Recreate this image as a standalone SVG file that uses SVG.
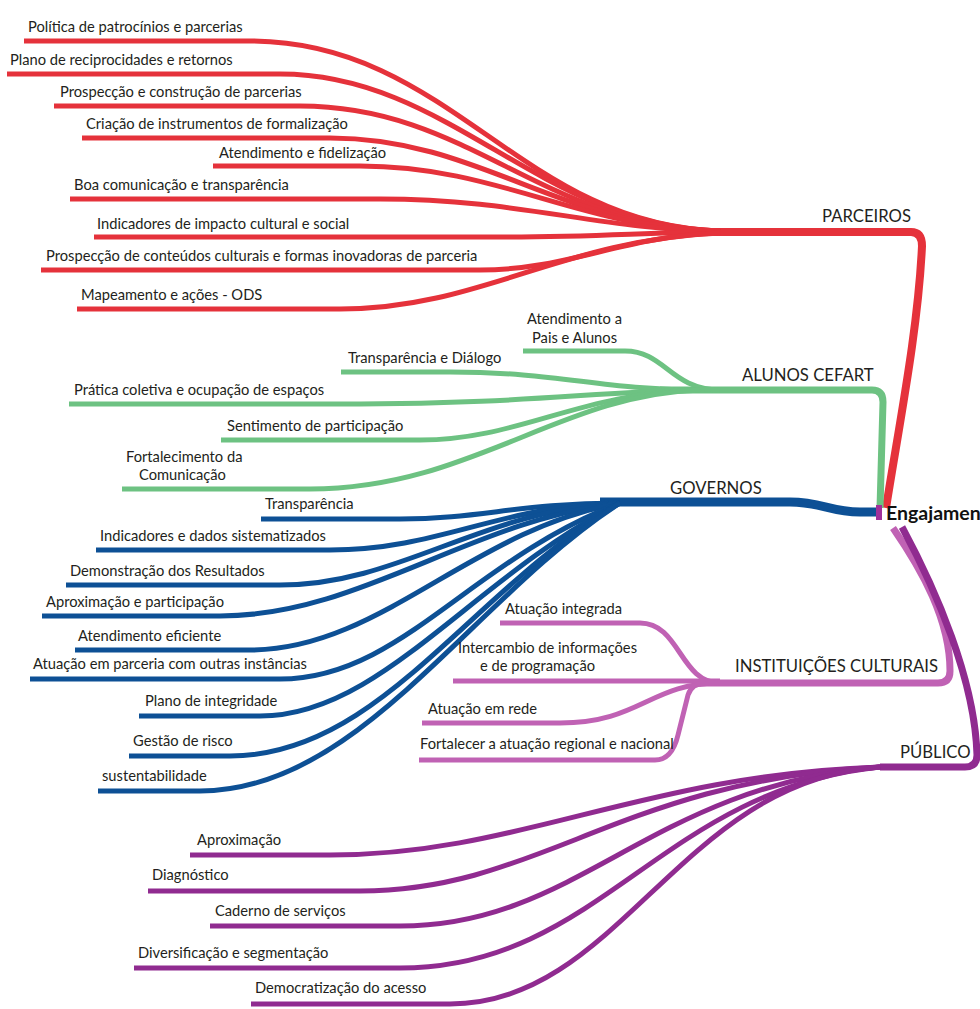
<svg xmlns="http://www.w3.org/2000/svg" width="980" height="1009" viewBox="0 0 980 1009">
<style>
.t{font-family:Lato,"Liberation Sans",sans-serif;font-size:14.7px;fill:#231f20}
.h{font-family:Lato,"Liberation Sans",sans-serif;font-size:16.7px;fill:#231f20}
.c{font-family:Lato,"Liberation Sans",sans-serif;font-size:19.5px;font-weight:bold;fill:#111}
.r,.g,.b,.p,.q{fill:none;stroke-width:5;stroke-linecap:butt;stroke-linejoin:round}
.r{stroke:#e5323b}.g{stroke:#6dc282}.b{stroke:#0d5095}.p{stroke:#902b90}.q{stroke:#c062b4}
</style>
<rect width="980" height="1009" fill="#fff"/>
<g id="connectors">
<path class="r" style="stroke-width:8" d="M700,232 H911 Q922,232 922,246 C918,330 900,420 886,508"/>
<path class="g" style="stroke-width:7" d="M660,390 H872 Q883,390 883,402 L880,508"/>
<path class="b" style="stroke-width:9" d="M600,502 H790 C822,502 830,512 860,512 H878"/>
<path class="q" style="stroke-width:7" d="M700,683 H938 Q950,683 950,671 C950,620 922,570 893,528"/>
<path class="p" style="stroke-width:7" d="M880,767 H965 Q977,767 977,755 C975,680 936,590 902,527"/>
<rect x="876" y="505" width="6" height="15" fill="#a0309a"/>
<path class="r" d="M24,41 H250 C450,41 520,225 720,231"/>
<path class="r" d="M7,74 H280 C450,74 540,226 720,231"/>
<path class="r" d="M54,106 H300 C470,106 540,226 720,231"/>
<path class="r" d="M82,138 H330 C480,138 560,228 720,231"/>
<path class="r" d="M213,166 H360 C500,166 580,229 720,231"/>
<path class="r" d="M70,199 H380 C520,199 600,230 720,231"/>
<path class="r" d="M94,237 H500 C600,237 650,232 720,232"/>
<path class="r" d="M41,270 H480 C570,270 620,236 720,233"/>
<path class="r" d="M77,309 H340 C480,309 560,240 720,233"/>
<path class="g" d="M523,351 H625 C665,351 670,389 720,390"/>
<path class="g" d="M341,372 H450 C560,372 600,390 700,390"/>
<path class="g" d="M69,404 H360 C520,404 600,391 700,390"/>
<path class="g" d="M221,440 H420 C520,440 580,392 700,390"/>
<path class="g" d="M122,489 H310 C470,489 560,394 700,390"/>
<path class="b" d="M261,519 H400 C480,519 520,503 620,503"/>
<path class="b" d="M96,550 H330 C440,550 500,505 620,503"/>
<path class="b" d="M66,585 H280 C400,585 480,510 620,503"/>
<path class="b" d="M42,616 H220 C360,616 470,520 620,503"/>
<path class="b" d="M75,650 H250 C380,650 470,530 620,503"/>
<path class="b" d="M30,679 H280 C400,679 470,560 620,503"/>
<path class="b" d="M139,716 H260 C380,716 470,580 620,503"/>
<path class="b" d="M129,756 H230 C380,756 470,590 620,503"/>
<path class="b" d="M98,791 H200 C360,791 470,600 620,503"/>
<path class="q" d="M500,623 H640 C680,623 680,683 720,683"/>
<path class="q" d="M453,681 H720"/>
<path class="q" d="M422,723 H560 C640,723 650,683 720,683"/>
<path class="q" d="M419,760 H655 Q672,760 678,735 L688,695 Q692,683 705,683"/>
<path class="p" d="M190,855 H330 C520,855 640,775 880,767"/>
<path class="p" d="M148,891 H360 C540,891 620,780 880,767"/>
<path class="p" d="M210,926 H400 C580,926 650,785 880,767"/>
<path class="p" d="M134,968 H400 C600,968 660,790 880,767"/>
<path class="p" d="M251,1004 H450 C620,1004 680,780 880,767"/>
</g>
<g id="center"><text class="c" x="886" y="520">Engajamento</text></g>
<g id="parceiros"><text class="h" x="822" y="222">PARCEIROS</text></g>
<g id="alunos"><text class="h" x="742" y="381">ALUNOS CEFART</text></g>
<g id="governos"><text class="h" x="670" y="494">GOVERNOS</text></g>
<g id="instituicoes"><text class="h" x="735" y="672">INSTITUIÇÕES CULTURAIS</text></g>
<g id="publico"><text class="h" x="900" y="758">PÚBLICO</text></g>
<g id="p1"><text class="t" x="28" y="32">Política de patrocínios e parcerias</text></g>
<g id="p2"><text class="t" x="10" y="65">Plano de reciprocidades e retornos</text></g>
<g id="p3"><text class="t" x="60" y="97">Prospecção e construção de parcerias</text></g>
<g id="p4"><text class="t" x="86" y="129">Criação de instrumentos de formalização</text></g>
<g id="p5"><text class="t" x="219" y="158">Atendimento e fidelização</text></g>
<g id="p6"><text class="t" x="74" y="190">Boa comunicação e transparência</text></g>
<g id="p7"><text class="t" x="97" y="229">Indicadores de impacto cultural e social</text></g>
<g id="p8"><text class="t" x="46" y="261">Prospecção de conteúdos culturais e formas inovadoras de parceria</text></g>
<g id="p9"><text class="t" x="81" y="300">Mapeamento e ações - ODS</text></g>
<g id="a1"><text class="t" x="527" y="324">Atendimento a</text><text class="t" x="532" y="343">Pais e Alunos</text></g>
<g id="a2"><text class="t" x="348" y="363">Transparência e Diálogo</text></g>
<g id="a3"><text class="t" x="74" y="395">Prática coletiva e ocupação de espaços</text></g>
<g id="a4"><text class="t" x="227" y="431">Sentimento de participação</text></g>
<g id="a5"><text class="t" x="126" y="462">Fortalecimento da</text><text class="t" x="139" y="480">Comunicação</text></g>
<g id="g1"><text class="t" x="265" y="509">Transparência</text></g>
<g id="g2"><text class="t" x="100" y="541">Indicadores e dados sistematizados</text></g>
<g id="g3"><text class="t" x="70" y="576">Demonstração dos Resultados</text></g>
<g id="g4"><text class="t" x="46" y="607">Aproximação e participação</text></g>
<g id="g5"><text class="t" x="78" y="641">Atendimento eficiente</text></g>
<g id="g6"><text class="t" x="33" y="669">Atuação em parceria com outras instâncias</text></g>
<g id="g7"><text class="t" x="145" y="706">Plano de integridade</text></g>
<g id="g8"><text class="t" x="133" y="746">Gestão de risco</text></g>
<g id="g9"><text class="t" x="102" y="781">sustentabilidade</text></g>
<g id="i1"><text class="t" x="505" y="614">Atuação integrada</text></g>
<g id="i2"><text class="t" x="458" y="653">Intercambio de informações</text><text class="t" x="480" y="671">e de programação</text></g>
<g id="i3"><text class="t" x="428" y="714">Atuação em rede</text></g>
<g id="i4"><text class="t" x="420" y="749">Fortalecer a atuação regional e nacional</text></g>
<g id="u1"><text class="t" x="197" y="845">Aproximação</text></g>
<g id="u2"><text class="t" x="152" y="880">Diagnóstico</text></g>
<g id="u3"><text class="t" x="215" y="916">Caderno de serviços</text></g>
<g id="u4"><text class="t" x="138" y="958">Diversificação e segmentação</text></g>
<g id="u5"><text class="t" x="255" y="993">Democratização do acesso</text></g>
</svg>
